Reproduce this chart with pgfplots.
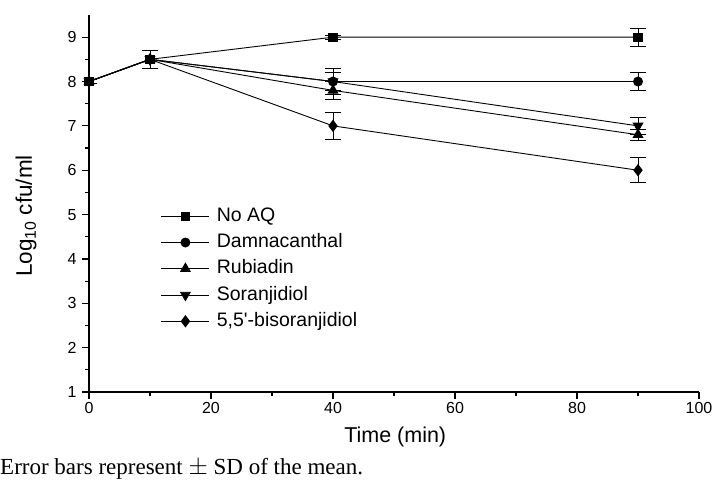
\documentclass[border=0pt]{standalone}
\usepackage{pgfplots}
\pgfplotsset{compat=1.18}
\usepackage{fontspec}
\setmainfont{Liberation Sans}
\newfontfamily\notefont{Liberation Serif}

% time (min), log10 cfu/ml, SD
\pgfplotstableread{
t   y    e
0   8.0  0.05
10  8.5  0.20
40  9.0  0.05
90  9.0  0.20
}\noaq
\pgfplotstableread{
t   y    e
0   8.0  0.05
10  8.5  0.20
40  8.0  0.30
90  8.0  0.20
}\damna
\pgfplotstableread{
t   y    e
0   8.0  0.05
10  8.5  0.20
40  7.8  0.20
90  6.8  0.12
}\rubia
\pgfplotstableread{
t   y    e
0   8.0  0.05
10  8.5  0.20
40  8.0  0.20
90  7.0  0.20
}\soran
\pgfplotstableread{
t   y    e
0   8.0  0.05
10  8.5  0.20
40  7.0  0.30
90  6.0  0.28
}\bisor

\pgfplotsset{
  errs/.style={black, line width=0.9pt,
    error bars/y dir=both, error bars/y explicit,
    error bars/error mark options={black, line width=0.9pt, mark size=8pt, rotate=90}},
}

\begin{document}
\begin{tikzpicture}
\path[use as bounding box] (0,0) rectangle (712pt,487pt);
\begin{axis}[
  at={(89pt,95pt)}, anchor=south west,
  scale only axis, width=610pt, height=377pt,
  xmin=0, xmax=100, ymin=1, ymax=9.5,
  axis x line*=bottom, axis y line*=left,
  axis line style={line width=1.2pt,-},
  xtick={0,20,...,100}, ytick={1,...,9},
  minor x tick num=1, minor y tick num=1,
  tick align=outside,
  major tick length=7pt, minor tick length=4pt,
  every tick/.style={black,line width=1.2pt},
  /pgf/number format/assume math mode=true,
  tick label style={font=\fontsize{16}{18}\selectfont},
  yticklabel style={xshift=-2pt},
  xlabel={Time (min)}, ylabel={Log\textsubscript{10} cfu/ml},
  xlabel style={font=\fontsize{21.5}{24}\selectfont, at={(axis description cs:0.502,-0.119)}, anchor=center},
  ylabel style={font=\fontsize{22.5}{26}\selectfont, at={(axis description cs:-0.103,0.467)}, anchor=center},
  reverse legend,
  legend cell align=left,
  legend style={draw=none, fill=none, inner sep=0pt, outer sep=0pt,
    at={(axis description cs:0.1180,0.490)}, anchor=north west,
    font=\fontsize{19.5}{22}\selectfont,
    nodes={inner sep=0pt, text height=14pt, text depth=4pt},
    row sep=8.25pt,
    /tikz/every odd column/.append style={column sep=7pt}},
  legend image code/.code={\draw[mark repeat=2,mark phase=2,#1] plot coordinates {(0pt,0pt)(24pt,0pt)(48pt,0pt)};},
]
\addplot[errs, mark=diamond*, mark size=5.5pt, mark options={solid,fill=black}]
  table[x=t, y=y, y error=e] {\bisor};
\addlegendentry{5,5\textquotesingle-bisoranjidiol}
\addplot[errs, mark=triangle*, mark size=5.5pt, mark options={solid,fill=black,rotate=180}]
  table[x=t, y=y, y error=e] {\soran};
\addlegendentry{Soranjidiol}
\addplot[errs, mark=triangle*, mark size=5.5pt, mark options={solid,fill=black}]
  table[x=t, y=y, y error=e] {\rubia};
\addlegendentry{Rubiadin}
\addplot[errs, mark=*, mark size=4.5pt, mark options={solid,fill=black}]
  table[x=t, y=y, y error=e] {\damna};
\addlegendentry{Damnacanthal}
\addplot[errs, mark=square*, mark size=4.2pt, mark options={solid,fill=black}]
  table[x=t, y=y, y error=e] {\noaq};
\addlegendentry{No AQ}
\end{axis}
\node[anchor=west, inner sep=0pt, font=\notefont\fontsize{23}{26}\selectfont] at (0pt,18pt)
  {Error bars represent $\pm$ SD of the mean.};
\end{tikzpicture}
\end{document}
